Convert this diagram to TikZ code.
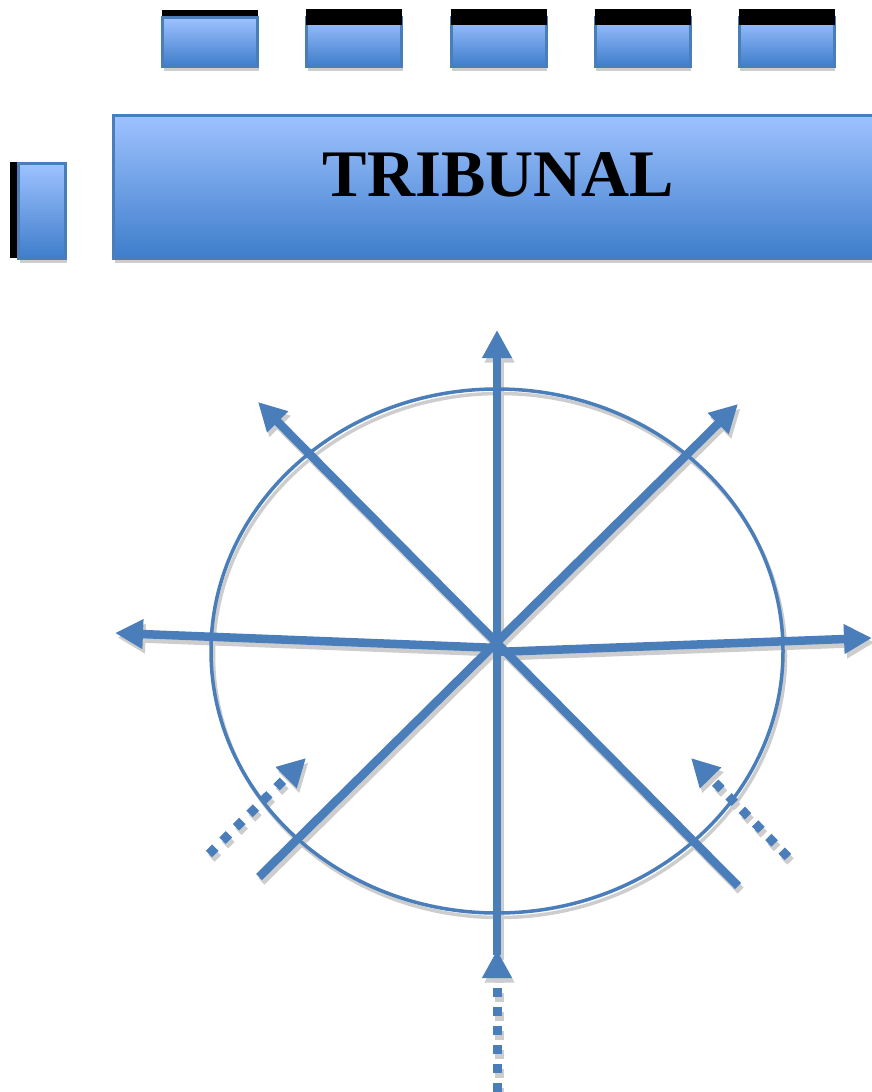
\documentclass[tikz,border=0pt]{standalone}
\usepackage{fontspec}
\newfontfamily\titlefont{Liberation Serif}
\usetikzlibrary{arrows.meta,shapes.geometric,shadows}
\definecolor{blu}{RGB}{74,126,187}
\definecolor{topc}{RGB}{158,194,255}
\definecolor{botc}{RGB}{62,125,203}
\definecolor{shd}{RGB}{205,205,205}
\tikzset{
  gbox/.style={draw=blu, line width=3pt, top color=topc, bottom color=botc,
    rectangle, inner sep=0pt,
    drop shadow={shadow xshift=1pt, shadow yshift=-4pt, fill=shd, opacity=1}},
  topbox/.style={gbox, minimum width=95pt, minimum height=49pt},
  bar/.style={fill=black, draw=none},
  mainarrow/.style={draw=ac, line width=8.5pt, line cap=butt,
    -{Triangle[length=28pt,width=28pt]}},
  dotarrow/.style={draw=ac, line width=9pt, line cap=butt, dash pattern=on 9pt off 10pt,
    -{Triangle[length=28pt,width=28pt]}},
  bottomarrow/.style={draw=ac, line width=9pt, line cap=butt, dash pattern=on 9pt off 10pt,
    -{Triangle[length=28pt,width=28pt]}},
  ringstyle/.style={draw=ac, line width=3.5pt, ellipse, minimum width=572pt, minimum height=524pt, inner sep=0pt}
}
\colorlet{ac}{blu}
\newcommand{\arrowset}{%
  \node[ringstyle] (ring) at (497,651) {};
  \draw[mainarrow] (vbot) -- (ntip);
  \draw[mainarrow] (cl) -- (wtip);
  \draw[mainarrow] (cr) -- (etip);
  \draw[mainarrow] (seend) -- (nwtip);
  \draw[mainarrow] (swend) -- (netip);
  \draw[dotarrow] (swdot) -- (swdtip);
  \draw[dotarrow] (sedot) -- (sedtip);
  \draw[bottomarrow] (bdot) -- (btip);
}
\begin{document}
\begin{tikzpicture}[x=1pt,y=-1pt]
\useasboundingbox (0,0) rectangle (872,1092);
% coordinates
\coordinate (C) at (497,648);
\coordinate (cl) at (499,648);
\coordinate (cr) at (495,652);
\coordinate (vbot) at (497,955);
\coordinate (ntip) at (497,330);
\coordinate (wtip) at (115,633);
\coordinate (etip) at (872,638);
\coordinate (seend) at (738,886);
\coordinate (nwtip) at (258,402);
\coordinate (swend) at (259,877);
\coordinate (netip) at (738,404);
\coordinate (swdot) at (209,854);
\coordinate (swdtip) at (306,758);
\coordinate (sedot) at (788,857);
\coordinate (sedtip) at (691,758);
\coordinate (bdot) at (497,1092);
\coordinate (btip) at (497,950);

% top row boxes
\fill[bar] (162,10) rectangle (258,16);
\node[topbox] (t1) at (210,42) {};
\node[topbox] (t2) at (354,42) {};
\node[topbox] (t3) at (498.5,42) {};
\node[topbox] (t4) at (642.5,42) {};
\node[topbox] (t5) at (786.5,42) {};
\foreach \n in {t2,t3,t4,t5}{
  \fill[bar] ([xshift=1pt,yshift=7.5pt]\n.north west) rectangle ([xshift=-1pt,yshift=-8.5pt]\n.north east);
}

% left small box
\fill[bar] (10,162) rectangle (18,258);
\node[gbox, minimum width=47pt, minimum height=95pt] (side) at (42,211) {};

% tribunal box
\node[gbox, minimum width=762pt, minimum height=143pt] (trib) at (494.5,187) {};
\node[font=\titlefont\bfseries\fontsize{66.5}{70}\selectfont, inner sep=0pt] (title) at (498.5,175) {TRIBUNAL};

% shadows
\begin{scope}[transform canvas={shift={(2.5,4.5)}}]
  \colorlet{ac}{shd}
  \arrowset
\end{scope}
% blue
\arrowset
\end{tikzpicture}
\end{document}
